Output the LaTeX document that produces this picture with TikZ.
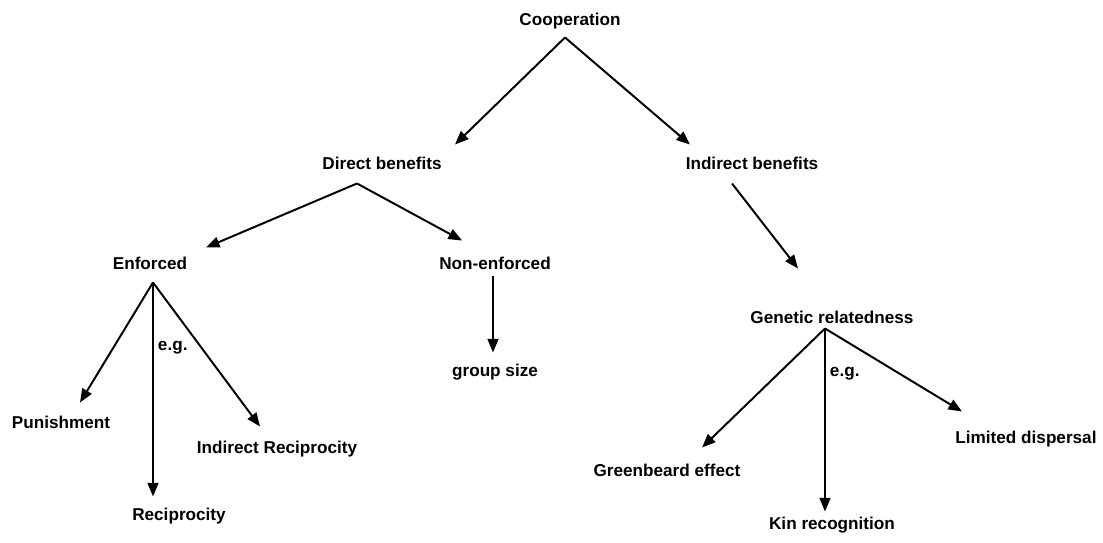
\documentclass[tikz,border=0pt]{standalone}
\usepackage{fontspec}
\setmainfont{Liberation Sans}
\usetikzlibrary{arrows.meta}

\tikzset{
    lbl/.style={font=\bfseries\fontsize{12.2}{14}\selectfont, inner sep=0pt, text height=0.31cm, text depth=0pt},
    arr/.style={-{Triangle[length=0.34cm, width=0.27cm]}, line width=1.4pt}
}

\begin{document}
\begin{tikzpicture}[x=0.025cm, y=-0.025cm]
    \useasboundingbox (0, 0) rectangle (1103, 542);

    % Levels
    \node[lbl] (coop) at (570, 19) {Cooperation};
    \node[lbl] (direct) at (382, 163) {Direct benefits};
    \node[lbl] (indirect) at (752, 163) {Indirect benefits};
    \node[lbl] (enf) at (150, 263) {Enforced};
    \node[lbl] (nonenf) at (495, 263) {Non-enforced};
    \node[lbl] (genrel) at (832, 317) {Genetic relatedness};
    \node[lbl] (grp) at (495, 370) {group size};

    % Examples
    \node[lbl] (pun) at (61, 422) {Punishment};
    \node[lbl] (indrec) at (277, 447) {Indirect Reciprocity};
    \node[lbl] (recip) at (179, 514) {Reciprocity};
    \node[lbl] (green) at (667, 470) {Greenbeard effect};
    \node[lbl] (limdisp) at (1026, 437) {Limited dispersal};
    \node[lbl] (kin) at (832, 523) {Kin recognition};

    % Arrows
    \draw[arr] ([shift={(-5, 12)}]coop.south) -- ([shift={(73, -12)}]direct.north);
    \draw[arr] ([shift={(-5, 12)}]coop.south) -- ([shift={(-62, -12)}]indirect.north);
    \draw[arr] ([shift={(-25, 14)}]direct.south) -- ([shift={(56, -9)}]enf.north);
    \draw[arr] ([shift={(-25, 14)}]direct.south) -- ([shift={(-33, -16)}]nonenf.north);
    \draw[arr] ([shift={(-20, 14)}]indirect.south) -- ([shift={(-34, -42)}]genrel.north);
    \draw[arr] ([shift={(-2, 7)}]nonenf.south) -- ([shift={(-2, -11)}]grp.north);

    \draw[arr] ([shift={(3, 13)}]enf.south) -- ([shift={(19, -13)}]pun.north);
    \draw[arr] ([shift={(3, 13)}]enf.south) -- ([shift={(-26, -11)}]recip.north)
        node[lbl, pos=0.29, anchor=west, xshift=0.1cm] (eg1) {e.g.};
    \draw[arr] ([shift={(3, 13)}]enf.south) -- ([shift={(-17, -14)}]indrec.north);

    \draw[arr] ([shift={(-7, 5)}]genrel.south) -- ([shift={(35, -16)}]green.north);
    \draw[arr] ([shift={(-7, 5)}]genrel.south) -- ([shift={(-7, -5)}]kin.north)
        node[lbl, pos=0.23, anchor=west, xshift=0.1cm] (eg2) {e.g.};
    \draw[arr] ([shift={(-7, 5)}]genrel.south) -- ([shift={(-64, -19)}]limdisp.north);
\end{tikzpicture}
\end{document}
